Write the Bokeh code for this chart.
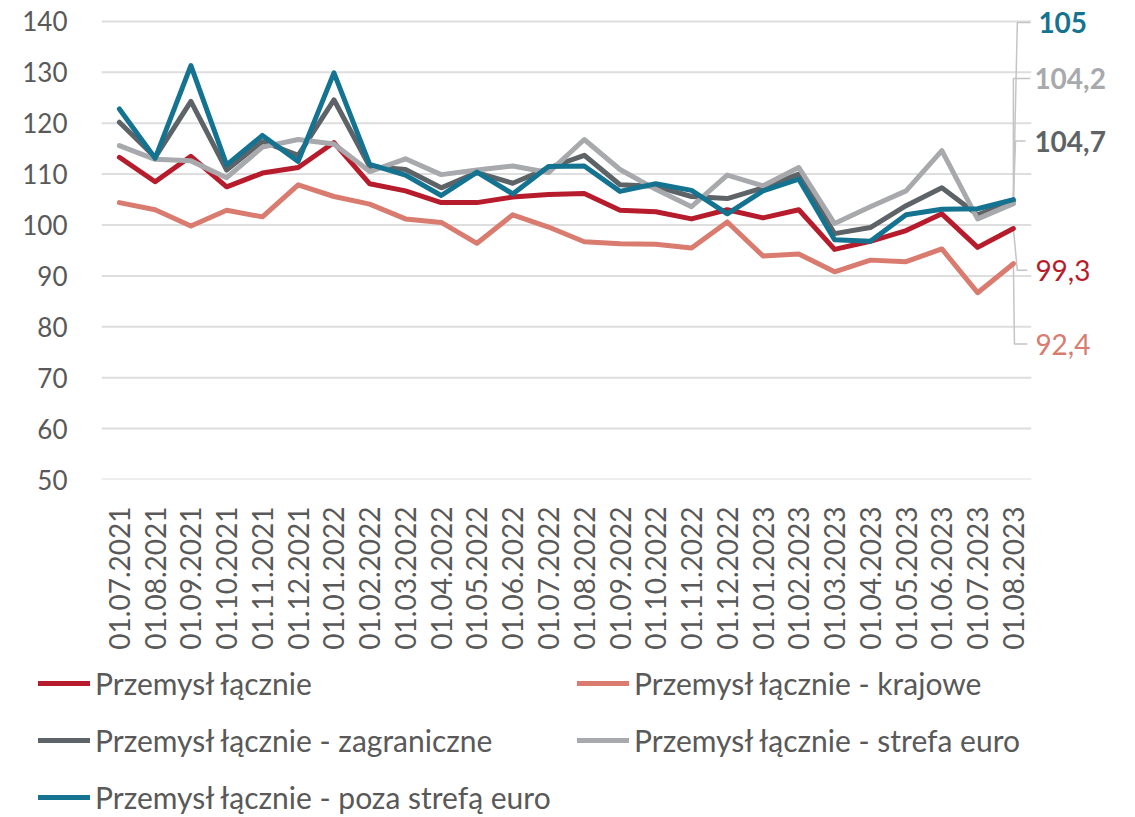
import math
from bokeh.plotting import figure
from bokeh.models import Range1d, FixedTicker, Legend, LegendItem, Label
from bokeh.embed import file_html
from bokeh.resources import INLINE

# ---------------- data ----------------
dates = ["01.07.2021", "01.08.2021", "01.09.2021", "01.10.2021", "01.11.2021", "01.12.2021",
         "01.01.2022", "01.02.2022", "01.03.2022", "01.04.2022", "01.05.2022", "01.06.2022",
         "01.07.2022", "01.08.2022", "01.09.2022", "01.10.2022", "01.11.2022", "01.12.2022",
         "01.01.2023", "01.02.2023", "01.03.2023", "01.04.2023", "01.05.2023", "01.06.2023",
         "01.07.2023", "01.08.2023"]

przemysl_lacznie = [113.3, 108.5, 113.5, 107.5, 110.2, 111.3, 116.2, 108.1, 106.7, 104.4,
                    104.4, 105.5, 106.0, 106.2, 102.9, 102.6, 101.2, 103.0, 101.4, 103.0,
                    95.2, 96.8, 98.9, 102.2, 95.6, 99.3]
krajowe = [104.4, 103.0, 99.8, 102.9, 101.6, 107.9, 105.6, 104.1, 101.2, 100.5,
           96.4, 102.0, 99.6, 96.7, 96.3, 96.2, 95.5, 100.6, 93.9, 94.3,
           90.8, 93.1, 92.8, 95.3, 86.7, 92.4]
zagraniczne = [120.2, 113.3, 124.3, 110.8, 116.4, 113.7, 124.6, 111.5, 110.9, 107.3,
               110.3, 108.2, 111.2, 113.7, 107.9, 107.6, 105.6, 105.2, 107.3, 110.0,
               98.3, 99.5, 103.8, 107.3, 102.0, 104.7]
strefa_euro = [115.6, 112.9, 112.6, 109.3, 115.3, 116.8, 115.9, 110.5, 113.0, 109.9,
               110.8, 111.6, 110.3, 116.8, 110.9, 107.0, 103.6, 109.8, 107.7, 111.3,
               100.3, 103.6, 106.7, 114.6, 101.2, 104.2]
poza_strefa_euro = [122.8, 113.1, 131.3, 111.8, 117.6, 112.5, 129.9, 111.9, 109.8, 105.8,
                    110.4, 106.1, 111.5, 111.6, 106.6, 108.1, 106.8, 102.2, 106.7, 109.0,
                    97.1, 96.8, 102.0, 103.1, 103.2, 105.0]

series_names = ["Przemysł łącznie", "Przemysł łącznie - krajowe",
                "Przemysł łącznie - zagraniczne", "Przemysł łącznie - strefa euro",
                "Przemysł łącznie - poza strefą euro"]
y_ticks = [50, 60, 70, 80, 90, 100, 110, 120, 130, 140]

# ---------------- styles / layout ----------------
colors = ["#B71C2C", "#D97B6F", "#5E6367", "#A7A9AC", "#147390"]
series = [przemysl_lacznie, krajowe, zagraniczne, strefa_euro, poza_strefa_euro]
FONT = "Lato"
TXT = "#595959"

# end-label layout: (label y in value units, vertical leader x offset, tick end x offset, px offset, bold)
end_label_layout = {
    4: (139.8, 0.11, 0.47, 25, True),
    3: (128.8, 0.0, 0.47, 21, True),
    2: (116.5, 0.06, 0.34, 21, True),
    0: (91.1, 0.11, 0.39, 22, False),
    1: (76.6, 0.03, 0.39, 22, False),
}

n = len(dates)
xs = list(range(n))

W = 1135
H_MAIN, H_LEG = 652, 165
LEFT, BOTTOM = 101, 164
cat_px = 35.76
val_px = 5.186
x_end = -0.5 + (W - LEFT) / cat_px
y_end = y_ticks[-1] + 21.3 / val_px

p = figure(width=W, height=H_MAIN, output_backend="svg", toolbar_location=None,
           x_range=Range1d(-0.5, x_end), y_range=Range1d(y_ticks[0], y_end),
           min_border_left=LEFT, min_border_right=0, min_border_top=0, min_border_bottom=BOTTOM)
p.outline_line_color = None
p.background_fill_color = "white"
p.border_fill_color = "white"

p.xgrid.grid_line_color = None
p.ygrid.grid_line_color = None

# horizontal gridlines spanning the category area only
p.segment(x0=[-0.5] * len(y_ticks), x1=[n - 0.5] * len(y_ticks), y0=y_ticks, y1=y_ticks,
          line_color="#DEDEDE", line_width=2)

p.yaxis.ticker = FixedTicker(ticks=y_ticks)
p.yaxis.axis_line_color = None
p.yaxis.major_tick_line_color = None
p.yaxis.minor_tick_line_color = None
p.yaxis.major_label_text_font = FONT
p.yaxis.major_label_text_font_size = "26px"
p.yaxis.major_label_text_color = TXT
p.yaxis.major_label_standoff = 28

p.xaxis.ticker = FixedTicker(ticks=xs)
p.xaxis.major_label_overrides = {i: d for i, d in enumerate(dates)}
p.xaxis.major_label_orientation = math.pi / 2
p.xaxis.axis_line_color = None
p.xaxis.major_tick_line_color = None
p.xaxis.minor_tick_line_color = None
p.xaxis.major_label_text_font = FONT
p.xaxis.major_label_text_font_size = "28px"
p.xaxis.major_label_text_color = TXT
p.xaxis.major_label_standoff = 21

# leader lines
lead_xs, lead_ys = [], []
for idx, (ly, vx, tx, _, _) in end_label_layout.items():
    last = series[idx][-1]
    lead_xs.append([xs[-1], xs[-1] + vx, xs[-1] + tx])
    lead_ys.append([last, ly, ly])
p.multi_line(xs=lead_xs, ys=lead_ys, line_color="#C4C4C4", line_width=1.5)

for s, c in zip(series, colors):
    p.line(x=xs, y=s, line_color=c, line_width=5, line_join="round", line_cap="round")

def fmt(v):
    return ("%g" % v).replace(".", ",")

for idx, (ly, vx, tx, off, bold) in end_label_layout.items():
    p.add_layout(Label(x=xs[-1], y=ly, x_offset=off, text=fmt(series[idx][-1]),
                       text_baseline="middle", text_align="left", text_font=FONT,
                       text_font_size="28px", text_color=colors[idx],
                       text_font_style="bold" if bold else "normal"))

# ---------------- legend panel (separate root, no frame alignment) ----------------
q = figure(width=W, height=H_LEG, output_backend="svg", toolbar_location=None,
           x_range=Range1d(0, 1), y_range=Range1d(0, 1), x_axis_type=None, y_axis_type=None,
           min_border_left=0, min_border_right=0, min_border_top=0, min_border_bottom=0)
q.outline_line_color = None
q.xgrid.grid_line_color = None
q.ygrid.grid_line_color = None
nan = float("nan")
legend_glyphs = [q.line(x=[nan], y=[nan], line_color=c, line_width=5, line_cap="round")
                 for c in colors]

def make_legend(idx_list, loc):
    lg = Legend(items=[LegendItem(label=series_names[i], renderers=[legend_glyphs[i]]) for i in idx_list],
                location=loc, orientation="vertical")
    lg.padding = 0
    lg.margin = 0
    lg.border_line_color = None
    lg.background_fill_alpha = 0
    lg.glyph_width = 52
    lg.glyph_height = 36
    lg.label_height = 36
    lg.spacing = 21
    lg.label_standoff = 5
    lg.label_text_font = FONT
    lg.label_text_font_size = "30px"
    lg.label_text_color = TXT
    return lg

q.add_layout(make_legend([0, 2, 4], (38, 2.5)))
q.add_layout(make_legend([1, 3], (577, 59.5)))

open("out.html", "w").write(file_html([p, q], INLINE))
